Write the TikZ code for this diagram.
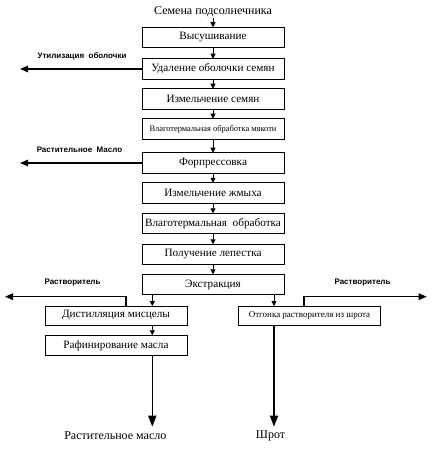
\documentclass[tikz,border=0pt]{standalone}
\usepackage{fontspec}
\setmainfont{Liberation Serif}
\newfontfamily\lsans{Liberation Sans}
\usetikzlibrary{arrows.meta}
\begin{document}
\begin{tikzpicture}[x=1pt,y=-1pt,
  stepbox/.style={draw,line width=0.8pt,minimum width=142pt,minimum height=20.5pt,inner sep=0pt,outer sep=0pt,font=\fontsize{11.2}{12}\selectfont},
  smallarr/.style={line width=0.8pt,-{Triangle[width=5pt,length=5pt]}},
  sidearr/.style={line width=1.3pt,-{Triangle[width=6.5pt,length=8pt]}},
  outarr/.style={line width=1.5pt,-{Triangle[width=8pt,length=11pt]}},
  sidelabel/.style={font=\lsans\bfseries\fontsize{8}{9}\selectfont,inner sep=0pt},
  plain/.style={font=\fontsize{12}{13}\selectfont,inner sep=0pt}]
\useasboundingbox (0,0) rectangle (431,449);
\node[plain] (title) at (213,12) {Семена подсолнечника};
\node[stepbox] (B1) at (213,37.5) {Высушивание};
\node[stepbox] (B2) at (213,69) {Удаление оболочки семян};
\node[stepbox] (B3) at (213,99) {Измельчение семян};
\node[stepbox,font=\fontsize{8.4}{9}\selectfont] (B4) at (213,129) {Влаготермальная обработка мякоти};
\node[stepbox] (B5) at (213,163) {Форпрессовка};
\node[stepbox] (B6) at (213,193) {Измельчение жмыха};
\node[stepbox] (B7) at (213,223.5) {Влаготермальная\ \ обработка};
\node[stepbox] (B8) at (213,254.5) {Получение лепестка};
\node[stepbox] (B9) at (213,284.5) {Экстракция};
\node[stepbox,minimum height=19pt] (B10) at (116,315.5) {Дистилляция мисцелы};
\node[stepbox] (B11) at (116,345.5) {Рафинирование масла};
\node[stepbox,minimum height=19pt,font=\fontsize{9}{10}\selectfont] (B12) at (309.5,315.5) {Отгонка растворителя из шрота};
\node[sidelabel] (L1) at (82,56) {Утилизация\ \ оболочки};
\node[sidelabel] (L2) at (79.5,150) {Растительное\ \ Масло};
\node[sidelabel] (L3) at (72.5,282.7) {Растворитель};
\node[sidelabel] (L4) at (362.5,282.7) {Растворитель};
\node[plain] (O1) at (115.3,436) {Растительное масло};
\node[plain] (O2) at (270.5,436) {Шрот};
\coordinate (lend) at (20,0);
\coordinate (xa) at (152.3,0);
\coordinate (xb) at (274,0);
\coordinate (xs) at (126,0);
\coordinate (xt) at (304,0);
\coordinate (sL) at (5,296.7);
\coordinate (sR) at (426.7,296.7);
\coordinate (bot) at (0,426.7);
\draw[smallarr] (title.south -| B1.north) ++(0,1) -- (B1.north);
\draw[smallarr] (B1) -- (B2);
\draw[smallarr] (B2) -- (B3);
\draw[smallarr] (B3) -- (B4);
\draw[smallarr] (B4) -- (B5);
\draw[smallarr] (B5) -- (B6);
\draw[smallarr] (B6) -- (B7);
\draw[smallarr] (B7) -- (B8);
\draw[smallarr] (B8) -- (B9);
\draw[smallarr] (xa |- B9.south) -- (xa |- B10.north);
\draw[smallarr] (xb |- B9.south) -- (xb |- B12.north);
\draw[smallarr] (xa |- B10.south) -- (xa |- B11.north);
\draw[sidearr] (B2.west) -- (B2.west -| lend);
\draw[sidearr] (B5.west) -- (B5.west -| lend);
\draw[sidearr] (xs |- B10.north) |- (sL);
\draw[sidearr] (xt |- B12.north) |- (sR);
\draw[outarr] (xa |- B11.south) -- (xa |- bot);
\draw[outarr] (xb |- B12.south) -- (xb |- bot);
\end{tikzpicture}
\end{document}
